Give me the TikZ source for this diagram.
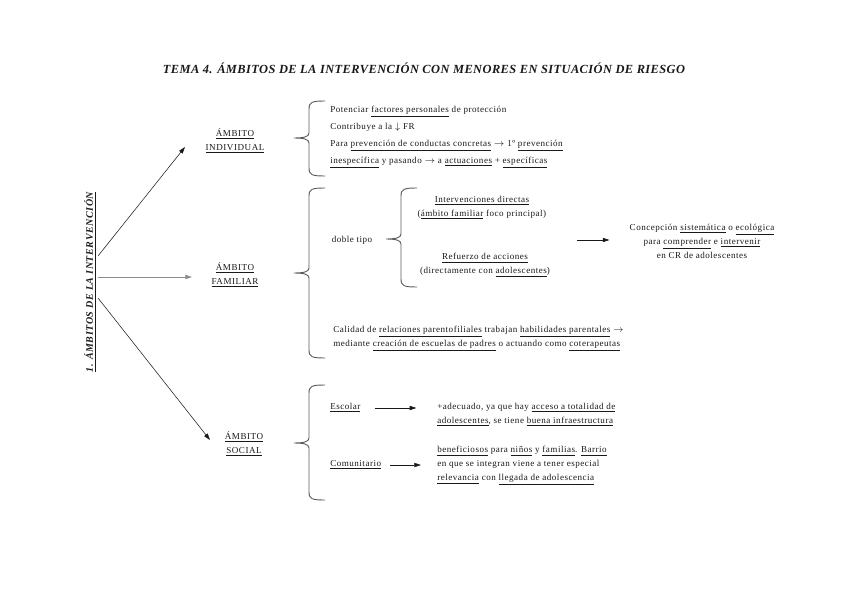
\documentclass[tikz,border=0pt]{standalone}
\usepackage{fontspec}
\setmainfont{Liberation Serif}
\usetikzlibrary{arrows.meta}
\definecolor{tinta}{RGB}{25,25,25}
\definecolor{gris}{RGB}{140,140,140}
\definecolor{trazo}{RGB}{90,90,90}
\newcommand{\cuerpo}{\fontsize{6.8}{10.5}\selectfont\addfontfeatures{LetterSpace=5.5}}
% llave hacia la izquierda: x del cuerpo, y arriba, y abajo, y de la punta
\newcommand{\llave}[4]{%
  \draw[trazo,line width=0.7pt] ({#1+16},#2) .. controls ({#1+3},#2) and (#1,{#2+1}) .. (#1,{#2+8})
    -- (#1,{#4-5}) .. controls (#1,{#4-1}) and ({#1-6},#4) .. ({#1-15},#4)
    .. controls ({#1-6},#4) and (#1,{#4+1}) .. (#1,{#4+5})
    -- (#1,{#3-8}) .. controls (#1,{#3-1}) and ({#1+3},#3) .. ({#1+16},#3);}

\begin{document}
\begin{tikzpicture}[x=0.75pt,y=-0.75pt,tinta,
    texto/.style={font=\cuerpo,inner sep=0pt,align=left},
    centro/.style={font=\cuerpo,inner sep=0pt,align=center},
    ambito/.style={font=\fontsize{6.8}{10.5}\selectfont\addfontfeatures{LetterSpace=6},inner sep=0pt,align=center},
    flecha/.style={thin,-{Triangle[length=5pt,width=3.2pt]}}]
  \useasboundingbox (0,0) rectangle (848,599);
  % titulo
  \node[font=\bfseries\itshape\fontsize{9.3}{11}\selectfont\addfontfeatures{LetterSpace=3.5},inner sep=0pt] (titulo) at (424,68)
    {TEMA 4. ÁMBITOS DE LA INTERVENCIÓN CON MENORES EN SITUACIÓN DE RIESGO};
  % eje vertical
  \node[rotate=90,font=\bfseries\itshape\fontsize{7.5}{9}\selectfont\addfontfeatures{LetterSpace=6},inner sep=0pt] (eje) at (90,282)
    {\underline{1. ÁMBITOS DE LA INTERVENCIÓN}};
  \coordinate (o1) at (98,256);
  \coordinate (o2) at (98,277);
  \coordinate (o3) at (98,298);
  \coordinate (d1) at (185,147);
  \coordinate (d2) at (192,277);
  \coordinate (d3) at (210,440);
  % ambitos
  \node[ambito] (indiv) at (235,141) {\underline{ÁMBITO}\\\underline{INDIVIDUAL}};
  \node[ambito] (famil) at (235,275) {\underline{ÁMBITO}\\\underline{FAMILIAR}};
  \node[ambito] (social) at (244,444) {\underline{ÁMBITO}\\\underline{SOCIAL}};
  \draw[flecha] (o1) -- (d1);
  \draw[flecha,gris] (o2) -- (d2);
  \draw[flecha] (o3) -- (d3);
  % llaves
  \llave{309}{101}{176}{138}
  \llave{309}{188}{358}{273}
  \llave{309}{385}{500}{443}
  \llave{401}{188}{287}{239}
  % individual
  \node[texto,font=\fontsize{6.8}{12.75}\selectfont\addfontfeatures{LetterSpace=5.5},anchor=west] (ind) at (330,137)
    {Potenciar \underline{factores personales} de protección\\
     Contribuye a la $\downarrow$ FR\\
     Para \underline{prevención de conductas concretas} $\rightarrow$ 1º \underline{prevención}\\
     \underline{inespecífica} y pasando $\rightarrow$ a \underline{actuaciones} + \underline{específicas}};
  % familiar
  \node[centro] (doble) at (352,240) {doble tipo};
  \node[centro] (direc) at (482,208)
    {\underline{Intervenciones directas}\\(\underline{ámbito familiar} foco principal)};
  \node[centro] (refue) at (485,265)
    {\underline{Refuerzo de acciones}\\(directamente con \underline{adolescentes})};
  \coordinate (salida) at (577,240);
  \node[centro] (concep) at (702,241)
    {Concepción \underline{sistemática} o \underline{ecológica}\\
     para \underline{comprender} e \underline{intervenir}\\
     en CR de adolescentes};
  \draw[flecha,shorten >=15pt] (salida) -- (salida -| concep.west);
  \node[texto,anchor=west] (calid) at (333,339)
    {Calidad de \underline{relaciones parentofiliales} trabajan \underline{habilidades parentales} $\rightarrow$\\
     mediante \underline{creación de escuelas de padres} o actuando como \underline{coterapeutas}};
  % social
  \node[texto,anchor=west] (escol) at (330,408) {\underline{Escolar}};
  \node[texto,anchor=west] (esctx) at (437,415)
    {+adecuado, ya que hay \underline{acceso a totalidad de}\\
     \underline{adolescentes}, se tiene \underline{buena infraestructura}};
  \draw[flecha,shorten <=10.5pt,shorten >=15.5pt] (escol.east) -- (escol.east -| esctx.west);
  \node[texto,anchor=west] (comun) at (330,465) {\underline{Comunitario}};
  \node[texto,anchor=west] (comtx) at (437,466)
    {\underline{beneficiosos} para \underline{niños} y \underline{familias}. \underline{Barrio}\\
     en que se integran viene a tener especial\\
     \underline{relevancia} con \underline{llegada de adolescencia}};
  \draw[flecha,shorten <=6.5pt,shorten >=12pt] (comun.east) -- (comun.east -| comtx.west);
\end{tikzpicture}
\end{document}
